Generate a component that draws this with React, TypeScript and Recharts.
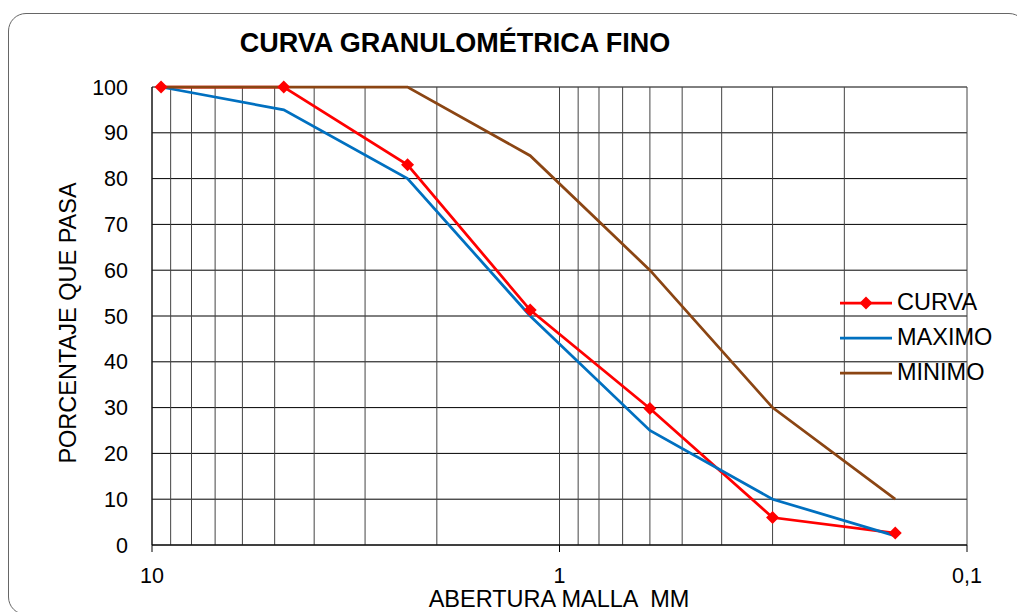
import { CartesianGrid, Label, Legend, Line, LineChart, XAxis, YAxis } from "recharts";

// abertura de tamiz (mm) y porcentaje que pasa
const sizes = [9.5, 4.75, 2.36, 1.18, 0.6, 0.3, 0.15];
const curva = [100, 100, 83, 51.3, 29.8, 6, 2.6];
const maximo = [100, 95, 80, 50, 25, 10, 2];
const minimo = [100, 100, 100, 85, 60, 30, 10];

const xTicks = [10, 9, 8, 7, 6, 5, 4, 3, 2, 1, 0.9, 0.8, 0.7, 0.6, 0.5, 0.4, 0.3, 0.2, 0.1];
const xLabels: Record<string, string> = { "10": "10", "1": "1", "0.1": "0,1" };
const yTicks = [0, 10, 20, 30, 40, 50, 60, 70, 80, 90, 100];

const data = sizes.map((size, i) => ({
  size,
  curva: curva[i],
  maximo: maximo[i],
  minimo: minimo[i],
}));

const FONT = "'Liberation Sans', Arial, sans-serif";
const RED = "#ff0000";
const BLUE = "#0070c0";
const BROWN = "#8b4513";
const LW = 2.75;

function Diamond(props: any) {
  const { cx, cy } = props;
  if (cx == null || cy == null) return null;
  const r = 6.5;
  return (
    <path
      d={`M${cx},${cy - r} L${cx + r},${cy} L${cx},${cy + r} L${cx - r},${cy} Z`}
      fill={RED}
    />
  );
}

function XTick(props: any) {
  const { x, y, payload } = props;
  const label = xLabels[String(payload.value)];
  if (!label) return null;
  return (
    <g>
      <line x1={x} x2={x} y1={y} y2={y + 7} stroke="#000" />
      <text x={x} y={y + 38} textAnchor="middle" fontSize={21.5} fontFamily={FONT} fill="#000">
        {label}
      </text>
    </g>
  );
}

const legendItems = [
  { name: "CURVA", color: RED, marker: true },
  { name: "MAXIMO", color: BLUE, marker: false },
  { name: "MINIMO", color: BROWN, marker: false },
];

function LegendBox() {
  return (
    <div style={{ fontFamily: FONT, fontSize: 23.5, color: "#000" }}>
      {legendItems.map((it) => (
        <div key={it.name} style={{ height: 35, display: "flex", alignItems: "center" }}>
          <svg width={56} height={20} style={{ flex: "none" }}>
            <line x1={2} x2={54} y1={10} y2={10} stroke={it.color} strokeWidth={LW} />
            {it.marker ? <path d="M28,3.5 L34.5,10 L28,16.5 L21.5,10 Z" fill={it.color} /> : null}
          </svg>
          <span style={{ marginLeft: 3 }}>{it.name}</span>
        </div>
      ))}
    </div>
  );
}

export default function App() {
  return (
    <div
      style={{
        position: "fixed",
        left: 0,
        top: 0,
        width: 1017,
        height: 612,
        overflow: "hidden",
        background: "#fff",
      }}
    >
      <div
        style={{
          position: "absolute",
          left: 8,
          top: 13,
          width: 1017,
          height: 600,
          border: "1.5px solid #666",
          borderRadius: 18,
        }}
      />
      <div
        style={{
          position: "absolute",
          left: 0,
          top: 28,
          width: 910,
          textAlign: "center",
          fontFamily: FONT,
          fontSize: 27,
          fontWeight: "bold",
          color: "#000",
        }}
      >
        CURVA GRANULOMÉTRICA FINO
      </div>
      <div style={{ position: "absolute", left: 0, top: 0 }}>
        <LineChart
          width={1017}
          height={612}
          data={data}
          margin={{ top: 87, right: 50, bottom: 27, left: 72 }}
        >
          <CartesianGrid horizontal={true} vertical={false} stroke="#000" strokeWidth={1} />
          <CartesianGrid horizontal={false} vertical={true} stroke="#444" strokeWidth={1} />
          <XAxis
            dataKey="size"
            type="number"
            scale="log"
            domain={[0.1, 10]}
            allowDataOverflow
            reversed
            ticks={xTicks}
            interval={0}
            height={40}
            tickSize={0}
            tickMargin={0}
            tickLine={false}
            tick={<XTick />}
            axisLine={{ stroke: "#000" }}
          >
            <Label
              content={() => (
                <text
                  x={559}
                  y={607}
                  textAnchor="middle"
                  fontSize={23.5}
                  fontFamily={FONT}
                  fill="#000"
                  style={{ whiteSpace: "pre" }}
                >
                  ABERTURA MALLA  MM
                </text>
              )}
            />
          </XAxis>
          <YAxis
            type="number"
            domain={[0, 100]}
            ticks={yTicks}
            interval={0}
            width={80}
            tickSize={0}
            tickMargin={24}
            tickLine={false}
            axisLine={{ stroke: "#000" }}
            tick={{ fontSize: 21.5, fontFamily: FONT, fill: "#000" }}
          >
            <Label
              content={() => (
                <text
                  x={68}
                  y={323}
                  transform="rotate(-90 68 323)"
                  textAnchor="middle"
                  dominantBaseline="central"
                  fontSize={23.5}
                  fontFamily={FONT}
                  fill="#000"
                >
                  PORCENTAJE QUE PASA
                </text>
              )}
            />
          </YAxis>
          <Legend
            layout="vertical"
            align="center"
            verticalAlign="middle"
            content={<LegendBox />}
            wrapperStyle={{ position: "absolute", left: 838, top: 285, width: 175 }}
          />
          <Line
            dataKey="curva"
            name="CURVA"
            stroke={RED}
            strokeWidth={LW}
            dot={false}
            activeDot={false}
            isAnimationActive={false}
          />
          <Line
            dataKey="maximo"
            name="MAXIMO"
            stroke={BLUE}
            strokeWidth={LW}
            dot={false}
            activeDot={false}
            isAnimationActive={false}
          />
          <Line
            dataKey="minimo"
            name="MINIMO"
            stroke={BROWN}
            strokeWidth={LW}
            dot={false}
            activeDot={false}
            isAnimationActive={false}
          />
          {/* marcadores de CURVA encima de las demás líneas */}
          <Line
            dataKey="curva"
            name="curva-marcas"
            stroke="none"
            legendType="none"
            dot={<Diamond />}
            activeDot={false}
            isAnimationActive={false}
          />
        </LineChart>
      </div>
    </div>
  );
}
